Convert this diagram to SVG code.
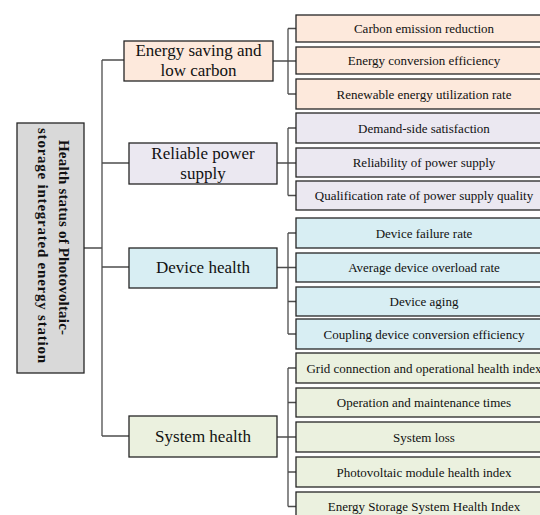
<svg xmlns="http://www.w3.org/2000/svg" width="540" height="515" viewBox="0 0 540 515">
<style>
.box{stroke:#262626;stroke-width:1.3}
.root{fill:#d9d9d9}
.c1{fill:#fde9dc}
.c2{fill:#ebe8f1}
.c3{fill:#d8eef3}
.c4{fill:#ebf1df}
text{font-family:'Liberation Serif',serif;fill:#111;text-anchor:middle}
.t1{font-size:17px}
.t2{font-size:13px}
.tr{font-size:15px;font-weight:bold}
.ln{stroke:#4d4d4d;stroke-width:1.3;fill:none}
</style>
<rect width="540" height="515" fill="#fff"/>
<g id="connectors">
<path class="ln" d="M84 248H102M102 60V436M102 60H124M102 163H129M102 267H129M102 436H129"/>
<path class="ln" d="M273 61H296M288 28.5V94M288 28.5H296M288 94H296"/>
<path class="ln" d="M277 163H296M288 128V195.5M288 128H296M288 195.5H296"/>
<path class="ln" d="M277 267.5H296M288 233V334M288 233H296M288 301.5H296M288 334H296"/>
<path class="ln" d="M277 437H296M288 368V506.5M288 368H296M288 402.5H296M288 472H296M288 506.5H296"/>
</g>
<g id="root">
<rect class="box root" x="17" y="123" width="67" height="250"/>
<text class="tr" transform="translate(58.5 237.5) rotate(90)" textLength="195" lengthAdjust="spacing">Health status of Photovoltaic-</text>
<text class="tr" transform="translate(38 245.5) rotate(90)" textLength="235" lengthAdjust="spacing">storage integrated energy station</text>
</g>
<g id="energy-saving">
<rect class="box c1" x="124" y="41" width="149" height="40"/>
<text class="t1" x="198.5" y="56">Energy saving and</text>
<text class="t1" x="198.5" y="76">low carbon</text>
</g>
<g id="reliable">
<rect class="box c2" x="129" y="143" width="148" height="41"/>
<text class="t1" x="203" y="159">Reliable power</text>
<text class="t1" x="203" y="179">supply</text>
</g>
<g id="device">
<rect class="box c3" x="129" y="248" width="148" height="40"/>
<text class="t1" x="203" y="273">Device health</text>
</g>
<g id="system">
<rect class="box c4" x="129" y="416" width="148" height="41"/>
<text class="t1" x="203" y="442">System health</text>
</g>
<g id="l2-1"><rect class="box c1" x="296" y="15" width="260" height="27"/><text class="t2" x="424" y="33">Carbon emission reduction</text></g>
<g id="l2-2"><rect class="box c1" x="296" y="47" width="260" height="27"/><text class="t2" x="424" y="65">Energy conversion efficiency</text></g>
<g id="l2-3"><rect class="box c1" x="296" y="79" width="260" height="30"/><text class="t2" x="424" y="98.5">Renewable energy utilization rate</text></g>
<g id="l2-4"><rect class="box c2" x="296" y="113" width="260" height="30"/><text class="t2" x="424" y="132.5">Demand-side satisfaction</text></g>
<g id="l2-5"><rect class="box c2" x="296" y="148" width="260" height="29"/><text class="t2" x="424" y="167">Reliability of power supply</text></g>
<g id="l2-6"><rect class="box c2" x="296" y="181" width="260" height="29"/><text class="t2" x="424" y="200">Qualification rate of power supply quality</text></g>
<g id="l2-7"><rect class="box c3" x="296" y="218" width="260" height="30"/><text class="t2" x="424" y="237.5">Device failure rate</text></g>
<g id="l2-8"><rect class="box c3" x="296" y="253" width="260" height="29"/><text class="t2" x="424" y="272">Average device overload rate</text></g>
<g id="l2-9"><rect class="box c3" x="296" y="287" width="260" height="29"/><text class="t2" x="424" y="306">Device aging</text></g>
<g id="l2-10"><rect class="box c3" x="296" y="319" width="260" height="30"/><text class="t2" x="424" y="338.5">Coupling device conversion efficiency</text></g>
<g id="l2-11"><rect class="box c4" x="296" y="353" width="260" height="30"/><text class="t2" x="424" y="372.5">Grid connection and operational health index</text></g>
<g id="l2-12"><rect class="box c4" x="296" y="388" width="260" height="29"/><text class="t2" x="424" y="407">Operation and maintenance times</text></g>
<g id="l2-13"><rect class="box c4" x="296" y="422" width="260" height="30"/><text class="t2" x="424" y="441.5">System loss</text></g>
<g id="l2-14"><rect class="box c4" x="296" y="457" width="260" height="30"/><text class="t2" x="424" y="476.5">Photovoltaic module health index</text></g>
<g id="l2-15"><rect class="box c4" x="296" y="492" width="260" height="30"/><text class="t2" x="424" y="511">Energy Storage System Health Index</text></g>
</svg>
